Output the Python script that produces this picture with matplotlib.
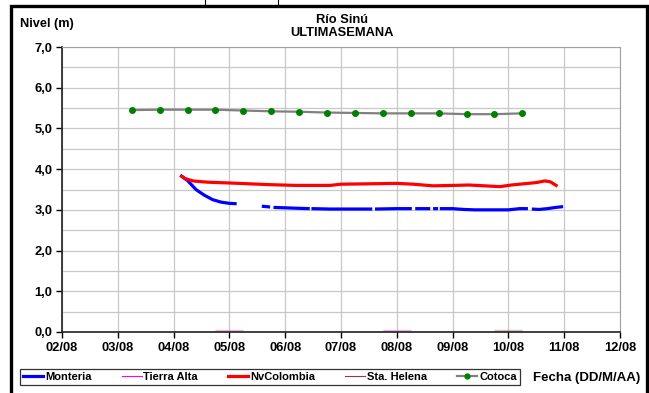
import matplotlib
matplotlib.use('Agg')
import matplotlib.pyplot as plt
import numpy as np
from matplotlib.lines import Line2D
from matplotlib.patches import Rectangle

plt.rcParams['font.family'] = ['Liberation Sans', 'DejaVu Sans']
plt.rcParams['font.weight'] = 'bold'

nan = np.nan

# tiempo en dias de agosto
monteria_t = [4.12, 4.25, 4.40, 4.55, 4.70, 4.85, 5.00, 5.13, 5.35, 5.58, 5.73, 5.76,
              5.79, 6.00, 6.20, 6.44, 6.455, 6.47, 6.80, 7.20, 7.56, 7.585, 7.61, 8.00,
              8.27, 8.30, 8.33, 8.60, 8.625, 8.65, 8.74, 8.755, 8.77, 9.00, 9.20, 9.40,
              9.80, 10.00, 10.20, 10.35, 10.385, 10.42, 10.55, 10.70, 10.85, 10.98]
monteria_v = [3.85, 3.72, 3.50, 3.36, 3.25, 3.19, 3.16, 3.15, nan, 3.09, 3.07, nan,
              3.06, 3.05, 3.04, 3.03, nan, 3.03, 3.02, 3.02, 3.02, nan, 3.02, 3.03,
              3.03, nan, 3.03, 3.03, nan, 3.03, 3.03, nan, 3.03, 3.03, 3.01, 3.00,
              3.00, 3.00, 3.03, 3.03, nan, 3.02, 3.01, 3.03, 3.06, 3.08]

nvcol_t = [4.12, 4.20, 4.35, 4.60, 5.00, 5.70, 6.20, 6.80, 7.00, 7.50, 8.00, 8.30,
           8.65, 9.00, 9.30, 9.85, 10.05, 10.35, 10.50, 10.65, 10.75, 10.88]
nvcol_v = [3.85, 3.77, 3.71, 3.68, 3.66, 3.62, 3.60, 3.60, 3.63, 3.64, 3.65, 3.63,
           3.59, 3.60, 3.61, 3.57, 3.61, 3.65, 3.67, 3.71, 3.69, 3.58]

tierra_t = [4.75, 5.25, 6.5, 7.75, 8.25]
tierra_v = [0.02, 0.02, nan, 0.02, 0.02]

helena_t = [9.75, 10.25]
helena_v = [0.02, 0.02]

cotoca_t = [3.25, 3.75, 4.25, 4.75, 5.25, 5.75, 6.25, 6.75, 7.25, 7.75, 8.25, 8.75,
            9.25, 9.75, 10.25]
cotoca_v = [5.45, 5.46, 5.46, 5.46, 5.44, 5.42, 5.41, 5.39, 5.38, 5.37, 5.37, 5.37,
            5.35, 5.35, 5.37]

x_ticks = [2, 3, 4, 5, 6, 7, 8, 9, 10, 11, 12]
x_labels = ['02/08', '03/08', '04/08', '05/08', '06/08', '07/08', '08/08', '09/08',
            '10/08', '11/08', '12/08']
y_ticks = [0, 1, 2, 3, 4, 5, 6, 7]
y_labels = ['0,0', '1,0', '2,0', '3,0', '4,0', '5,0', '6,0', '7,0']

fig = plt.figure(figsize=(6.49, 3.93), dpi=100)
ax = fig.add_axes([62 / 649, 61 / 393, 558 / 649, 285 / 393])

ax.plot(tierra_t, tierra_v, color='#e070d0', lw=2.5, alpha=0.5, solid_capstyle='butt')
ax.plot(helena_t, helena_v, color='#c08080', lw=2.5, alpha=0.5, solid_capstyle='butt')
ax.plot(monteria_t, monteria_v, color='#0000ff', lw=2.3, solid_capstyle='butt')
ax.plot(nvcol_t, nvcol_v, color='#ff0000', lw=2.3, solid_capstyle='butt')
ax.plot(cotoca_t, cotoca_v, color='#808080', lw=1.6, marker='o', ms=4,
        mfc='#008000', mec='#008000')

ax.set_xlim(2, 12)
ax.set_ylim(0, 7)
ax.set_xticks(x_ticks)
ax.set_xticklabels(x_labels)
ax.set_yticks(y_ticks)
ax.set_yticklabels(y_labels)
ax.set_yticks(np.arange(0.5, 7, 1.0), minor=True)
ax.tick_params(axis='both', labelsize=9.3, length=4, width=1, pad=3)
ax.tick_params(axis='y', which='minor', length=0)
ax.grid(True, which='major', color='#c8c8c8', lw=0.9)
ax.grid(True, which='minor', axis='y', color='#c8c8c8', lw=0.9)
ax.set_axisbelow(True)
for s in ['top', 'right']:
    ax.spines[s].set_color('#a0a0a0')
for s in ['left', 'bottom']:
    ax.spines[s].set_color('#202020')
    ax.spines[s].set_linewidth(1.2)

fig.text(20 / 649, 1 - 24 / 393, 'Nivel (m)', fontsize=9.2, va='center', ha='left')
fig.text(342 / 649, 1 - 20 / 393, 'Río Sinú', fontsize=9.3, va='center', ha='center')
fig.text(342 / 649, 1 - 33 / 393, 'ULTIMASEMANA', fontsize=9.3, va='center', ha='center')
fig.text(640 / 649, 1 - 378 / 393, 'Fecha (DD/M/AA)', fontsize=9.5, va='center', ha='right')

handles = [
    Line2D([], [], color='#0000ff', lw=2.3),
    Line2D([], [], color='#ff00ff', lw=0.8),
    Line2D([], [], color='#ff0000', lw=2.3),
    Line2D([], [], color='#993355', lw=0.8),
    Line2D([], [], color='#808080', lw=1.6, marker='o', ms=3.5, mfc='#008000', mec='#008000'),
]
labels = ['Monteria', 'Tierra Alta', 'NvColombia', 'Sta. Helena', 'Cotoca']
leg = fig.legend(handles, labels, loc='center', ncol=5, mode='expand',
                 bbox_to_anchor=(20 / 649, 7 / 393, 500 / 649, 18 / 393),
                 fontsize=8, frameon=True, fancybox=False, handlelength=1.8,
                 handletextpad=0.15, borderpad=0.3, borderaxespad=0)
leg.get_frame().set_edgecolor('black')
leg.get_frame().set_linewidth(0.9)

# marco exterior
fig.patches.append(Rectangle((11 / 649, -0.02), 636 / 649, (393 - 6) / 393 + 0.02,
                             transform=fig.transFigure, fill=False, lw=2.4,
                             edgecolor='black'))
for xx in [205, 278]:
    fig.add_artist(Line2D([xx / 649, xx / 649], [1, 1 - 6 / 393],
                          transform=fig.transFigure, color='black', lw=0.8))

fig.savefig('out.png', dpi=100)
